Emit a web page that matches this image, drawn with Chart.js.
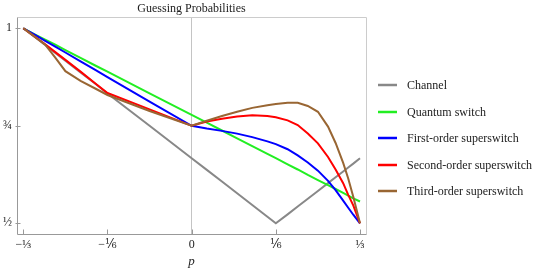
<!DOCTYPE html>
<html>
<head>
<meta charset="utf-8">
<script src="https://cdn.jsdelivr.net/npm/chart.js@4.4.0/dist/chart.umd.min.js"></script>
<style>
  html, body { margin: 0; padding: 0; background: #fff; }
</style>
</head>
<body>
<canvas id="guessing" width="540" height="278"></canvas>
<script>
const pValues = [-1/3, -0.31, -0.29, -0.27, -0.25, -0.22, -0.19, -1/6, -1/12, 0,
  0.03, 0.06, 0.09, 0.12, 0.15, 1/6, 0.19, 0.21, 0.23, 0.25, 0.27, 0.285, 0.30, 0.31, 0.32, 1/3];

const channel = [1, 0.977, 0.957, 0.937, 0.917, 0.887, 0.857, 0.833, 0.75, 0.667,
  0.637, 0.607, 0.577, 0.547, 0.517, 0.5, 0.523, 0.543, 0.563, 0.583, 0.603, 0.618, 0.633, 0.643, 0.653, 0.667];
const quantumSwitch = [1, 0.984, 0.971, 0.958, 0.944, 0.924, 0.904, 0.889, 0.833, 0.778,
  0.758, 0.738, 0.718, 0.698, 0.678, 0.667, 0.651, 0.638, 0.624, 0.611, 0.598, 0.588, 0.578, 0.571, 0.564, 0.556];
const firstOrder = [1, 0.983, 0.968, 0.953, 0.938, 0.915, 0.893, 0.875, 0.812, 0.75,
  0.743, 0.737, 0.730, 0.721, 0.710, 0.703, 0.690, 0.674, 0.656, 0.635, 0.609, 0.585, 0.558, 0.540, 0.522, 0.5];
const secondOrder = [1, 0.978, 0.959, 0.939, 0.919, 0.889, 0.858, 0.834, 0.792, 0.75,
  0.761, 0.768, 0.774, 0.777, 0.775, 0.772, 0.764, 0.752, 0.730, 0.705, 0.670, 0.638, 0.603, 0.573, 0.546, 0.5];
const thirdOrder = [1, 0.978, 0.958, 0.925, 0.89, 0.865, 0.845, 0.829, 0.788, 0.75,
  0.763, 0.775, 0.786, 0.796, 0.803, 0.806, 0.809, 0.809, 0.801, 0.786, 0.748, 0.706, 0.655, 0.615, 0.568, 0.5];

const seriesNames = ['Channel', 'Quantum switch', 'First-order superswitch', 'Second-order superswitch', 'Third-order superswitch'];
const seriesColors = ['#888888', '#22ee22', '#0000ff', '#ff0000', '#996633'];
const seriesValues = [channel, quantumSwitch, firstOrder, secondOrder, thirdOrder];

const xTickValues = [-1/3, -1/6, 0, 1/6, 1/3];
const xTickLabels = ['\u2212\u2153', '\u2212\u2159', '0', '\u2159', '\u2153'];
const yTickValues = [0.5, 0.75, 1];
const yTickLabels = ['\u00bd', '\u00be', '1'];

const serif = "'Liberation Serif', 'DejaVu Serif', serif";
const textColor = '#222';

const datasets = seriesNames.map((name, i) => ({
  label: name,
  data: pValues.map((p, j) => ({ x: p, y: seriesValues[i][j] })),
  borderColor: seriesColors[i],
  backgroundColor: seriesColors[i],
  borderWidth: 2,
  pointRadius: 0,
  tension: 0,
  order: seriesNames.length - i, // later series on top, like the original
}));

// light frame round the plot, with inward ticks
const framePlugin = {
  id: 'frame',
  beforeDatasetsDraw(chart) {
    const { ctx, chartArea: a, scales: { x, y } } = chart;
    const l = Math.round(a.left) + 0.5, r = Math.round(a.right) + 0.5;
    const t = Math.round(a.top) + 0.5, b = Math.round(a.bottom) + 0.5;
    ctx.save();
    ctx.lineWidth = 1;
    ctx.strokeStyle = '#cccccc';
    ctx.beginPath();
    ctx.moveTo(l, t); ctx.lineTo(r, t); ctx.lineTo(r, b);
    ctx.stroke();
    ctx.strokeStyle = '#999999';
    ctx.beginPath();
    ctx.moveTo(l, t); ctx.lineTo(l, b); ctx.lineTo(r, b);
    ctx.stroke();
    ctx.beginPath();
    xTickValues.forEach(v => {
      const px = Math.round(x.getPixelForValue(v)) + 0.5;
      ctx.moveTo(px, b); ctx.lineTo(px, b - 5);
    });
    yTickValues.forEach(v => {
      const py = Math.round(y.getPixelForValue(v)) + 0.5;
      ctx.moveTo(l - 2, py); ctx.lineTo(l + 3, py);
    });
    ctx.stroke();
    ctx.restore();
  },
};

// legend on the right, one line sample + label per dataset
const sideLegend = {
  id: 'sideLegend',
  afterDraw(chart) {
    const { ctx, chartArea: a } = chart;
    const sets = chart.data.datasets;
    const rowGap = 26.5;
    const x0 = a.right + 12;
    const y0 = chart.height / 2 - rowGap * (sets.length - 1) / 2 - 1;
    ctx.save();
    ctx.font = '12px ' + serif;
    ctx.textBaseline = 'middle';
    ctx.fillStyle = textColor;
    sets.forEach((ds, i) => {
      const y = Math.round(y0 + i * rowGap);
      ctx.strokeStyle = ds.borderColor;
      ctx.lineWidth = 2.5;
      ctx.beginPath();
      ctx.moveTo(x0, y); ctx.lineTo(x0 + 19, y);
      ctx.stroke();
      ctx.fillText(ds.label, x0 + 29, y + 0.5);
    });
    ctx.restore();
  },
};

new Chart(document.getElementById('guessing'), {
  type: 'line',
  data: { datasets },
  plugins: [framePlugin, sideLegend],
  options: {
    responsive: false,
    animation: false,
    devicePixelRatio: 1,
    layout: { padding: { right: 174 } },
    plugins: {
      title: {
        display: true,
        text: 'Guessing Probabilities',
        fullSize: false,
        color: textColor,
        font: { family: serif, size: 12, weight: 'normal' },
        padding: { top: 1.5, bottom: 1.1 },
      },
      legend: { display: false },
      tooltip: { enabled: false },
    },
    scales: {
      x: {
        type: 'linear',
        min: -0.3458,
        max: 0.3452,
        afterBuildTicks: s => { s.ticks = xTickValues.map(v => ({ value: v })); },
        afterFit: s => { s.height = 44; },
        ticks: {
          autoSkip: false,
          maxRotation: 0,
          padding: 4,
          color: textColor,
          font: { family: serif, size: 12 },
          callback: v => xTickLabels[xTickValues.findIndex(t => Math.abs(t - v) < 1e-9)],
        },
        grid: {
          drawTicks: false,
          color: c => (c.tick && Math.abs(c.tick.value) < 1e-9 ? '#c4c4c4' : 'rgba(0,0,0,0)'),
        },
        border: { display: false },
        title: {
          display: true,
          text: 'p',
          color: textColor,
          font: { family: serif, size: 13, style: 'italic' },
          padding: { top: 0, bottom: 9 },
        },
      },
      y: {
        type: 'linear',
        min: 0.4726,
        max: 1.029,
        afterBuildTicks: s => { s.ticks = yTickValues.map(v => ({ value: v })); },
        afterFit: s => { s.width = 17; },
        ticks: {
          padding: 5,
          color: textColor,
          font: { family: serif, size: 12 },
          callback: v => yTickLabels[yTickValues.findIndex(t => Math.abs(t - v) < 1e-9)],
        },
        grid: { display: false, drawTicks: false },
        border: { display: false },
      },
    },
  },
});
</script>
</body>
</html>
